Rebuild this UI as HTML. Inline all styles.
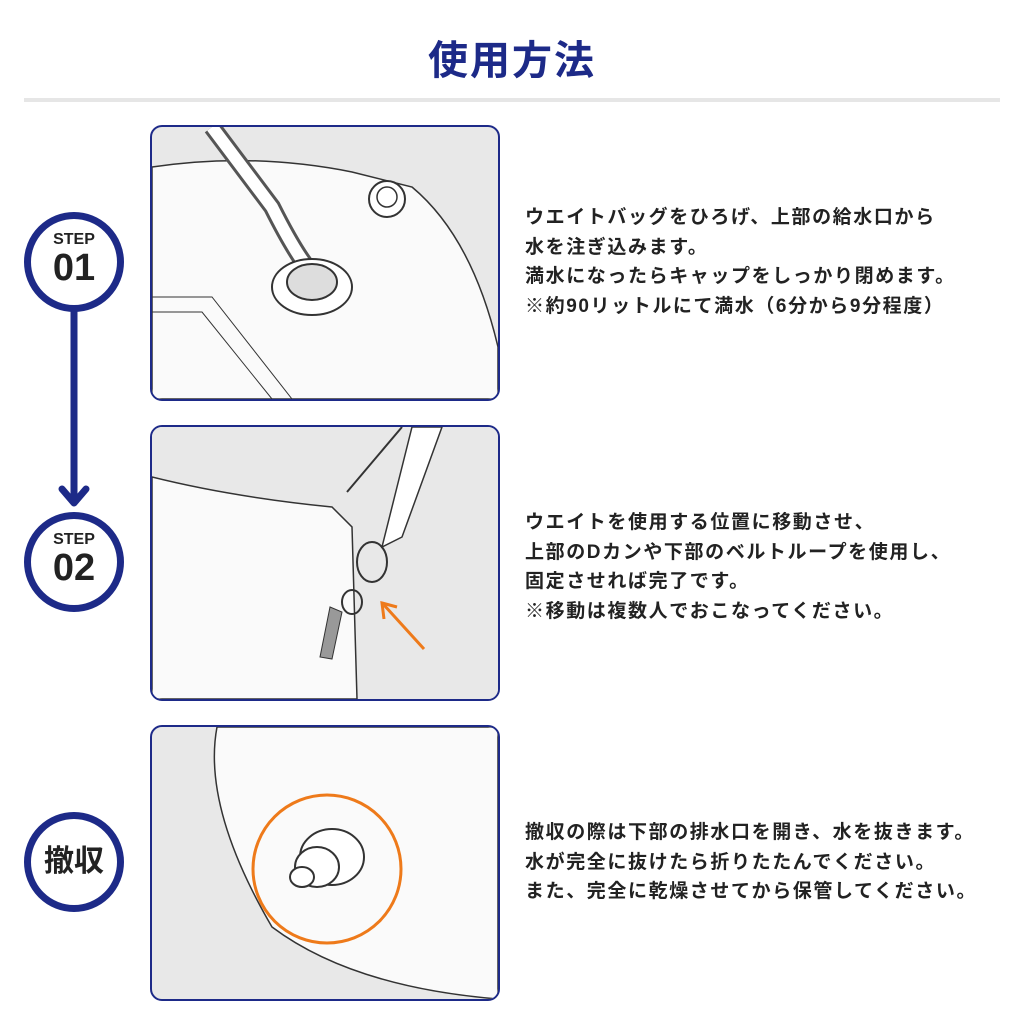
<!DOCTYPE html>
<html><head><meta charset="utf-8"><style>
body{margin:0;width:1024px;height:1024px;background:#fff;position:relative;overflow:hidden;font-family:"Liberation Sans","Noto Sans CJK JP",sans-serif}
.title{position:absolute;top:28px;left:0;width:1024px;text-align:center;font-size:40px;font-weight:bold;color:#1d2a88;letter-spacing:2px}
.rule{position:absolute;left:24px;top:98px;width:976px;height:4px;background:#e6e6e6}
.panel{position:absolute;left:150px;width:346px;height:272px;border:2px solid #1d2a88;border-radius:12px;overflow:hidden;background:#e8e8e8}
.txt{position:absolute;left:525px;font-size:19px;letter-spacing:1.6px;font-weight:bold;color:#222;line-height:29.5px;white-space:nowrap}
.circ{position:absolute;left:24px;width:86px;height:86px;border:7px solid #1d2a88;border-radius:50%;background:#fff;text-align:center;color:#222;font-weight:bold}
</style></head><body>
<div class="title">使用方法</div>
<div class="rule"></div>
<svg style="position:absolute;left:0;top:0" width="140" height="1024">
<line x1="74" y1="310" x2="74" y2="504" stroke="#1d2a88" stroke-width="7"/>
<polyline points="62,489 74,503 86,489" fill="none" stroke="#1d2a88" stroke-width="7" stroke-linecap="round" stroke-linejoin="round"/>
</svg>
<div class="circ" style="top:212px"><div style="font-size:16px;margin-top:12px;line-height:18px">STEP</div><div style="font-size:38px;line-height:38px">01</div></div>
<div class="circ" style="top:512px"><div style="font-size:16px;margin-top:12px;line-height:18px">STEP</div><div style="font-size:38px;line-height:38px">02</div></div>
<div class="circ" style="top:812px;line-height:86px;font-size:30px">撤収</div>

<div class="panel" style="top:125px"><svg width="346" height="272">
<path d="M0,40 Q100,25 200,45 L260,60 Q320,110 346,220 L346,272 L0,272Z" fill="#fafafa" stroke="#333" stroke-width="1.5"/>
<path d="M0,170 L60,170 L140,272" fill="none" stroke="#333"/>
<path d="M0,185 L50,185 L120,272" fill="none" stroke="#333"/>
<path d="M60,0 L120,80 Q140,120 155,140" fill="none" stroke="#555" stroke-width="18"/>
<path d="M60,0 L120,80 Q140,120 155,140" fill="none" stroke="#fff" stroke-width="12"/>
<ellipse cx="160" cy="160" rx="40" ry="28" fill="#fff" stroke="#333" stroke-width="2"/>
<ellipse cx="160" cy="155" rx="25" ry="18" fill="#ddd" stroke="#333" stroke-width="2"/>
<circle cx="235" cy="72" r="18" fill="#fff" stroke="#333" stroke-width="2"/>
<circle cx="235" cy="70" r="10" fill="#fff" stroke="#333" stroke-width="1.5"/>
</svg></div>

<div class="panel" style="top:425px"><svg width="346" height="272">
<rect x="0" y="0" width="346" height="272" fill="#e8e8e8"/>
<path d="M0,50 Q80,70 180,80 L200,100 L205,272 L0,272Z" fill="#fafafa" stroke="#333" stroke-width="1.5"/>
<path d="M260,0 L290,0 L250,110 L230,120 Z" fill="#fff" stroke="#333" stroke-width="1.5"/>
<path d="M250,0 L195,65" stroke="#333" stroke-width="2"/>
<ellipse cx="220" cy="135" rx="15" ry="20" fill="none" stroke="#333" stroke-width="2"/>
<ellipse cx="200" cy="175" rx="10" ry="12" fill="none" stroke="#333" stroke-width="2"/>
<path d="M178,180 L168,230 L180,232 L190,185Z" fill="#999" stroke="#333"/>
<line x1="232" y1="178" x2="272" y2="222" stroke="#ee7a1a" stroke-width="3"/>
<polyline points="232,192 230,176 245,180" fill="none" stroke="#ee7a1a" stroke-width="3"/>
</svg></div>

<div class="panel" style="top:725px"><svg width="346" height="272">
<path d="M65,0 Q50,80 120,200 Q200,260 346,272 L346,0Z" fill="#fafafa" stroke="#333" stroke-width="1.5"/>
<circle cx="175" cy="142" r="74" fill="none" stroke="#ee7a1a" stroke-width="3"/>
<ellipse cx="180" cy="130" rx="32" ry="28" fill="#fff" stroke="#333" stroke-width="2"/>
<ellipse cx="165" cy="140" rx="22" ry="20" fill="#fff" stroke="#333" stroke-width="2"/>
<ellipse cx="150" cy="150" rx="12" ry="10" fill="#fff" stroke="#333" stroke-width="2"/>
</svg></div>

<div class="txt" style="top:203px">ウエイトバッグをひろげ、上部の給水口から<br>水を注ぎ込みます。<br>満水になったらキャップをしっかり閉めます。<br>※約90リットルにて満水（6分から9分程度）</div>
<div class="txt" style="top:508px">ウエイトを使用する位置に移動させ、<br>上部のDカンや下部のベルトループを使用し、<br>固定させれば完了です。<br>※移動は複数人でおこなってください。</div>
<div class="txt" style="top:818px">撤収の際は下部の排水口を開き、水を抜きます。<br>水が完全に抜けたら折りたたんでください。<br>また、完全に乾燥させてから保管してください。</div>
</body></html>
